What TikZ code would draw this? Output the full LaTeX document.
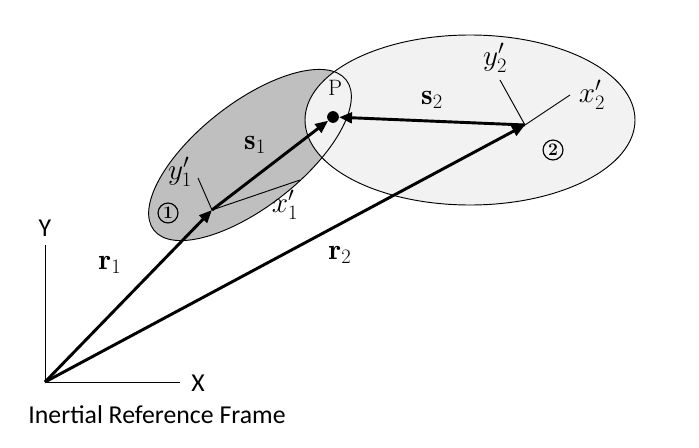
\documentclass[tikz,border=0pt]{standalone}
\usepackage{fontspec}
\usepackage{amsmath}
\usepackage{fix-cm}
\newfontfamily\carlito{Carlito}
\usetikzlibrary{arrows.meta}
\tikzset{vec/.style={line width=2.5pt, -{Triangle[length=11pt,width=9pt]}},
  axis/.style={line width=0.8pt},
  lbl/.style={font=\fontsize{25}{28}\selectfont},
  num/.style={circle, draw, line width=1pt, inner sep=0pt, minimum size=17pt, font=\bfseries\fontsize{15}{17}\selectfont}}
\begin{document}
\begin{tikzpicture}[x=0.03cm, y=-0.03cm]
\useasboundingbox (0,0) rectangle (699,447);
% bodies
\fill[gray!50, rotate around={38:(250,155)}] (250,155) ellipse (122 and 52);
\filldraw[fill=gray!10, draw=black, line width=0.8pt] (470,120) ellipse (165 and 85);
\draw[line width=0.8pt, rotate around={38:(250,155)}] (250,155) ellipse (122 and 52);
% points
\coordinate (O) at (45,382);
\coordinate (B1) at (212,210);
\coordinate (B2) at (525,125);
\node[circle, fill, inner sep=0pt, minimum size=10pt] (P) at (333,117) {};
% inertial frame
\draw[axis] (O) -- (45,245);
\draw[axis] (O) -- (180,382);
\node[font=\carlito\fontsize{22}{24}\selectfont] (Y) at (45,228) {Y};
\node[font=\carlito\fontsize{22}{24}\selectfont] (X) at (198,383) {X};
\node[font=\carlito\fontsize{22}{24}\selectfont] (frame) at (157,415) {Inertial Reference Frame};
% body frames
\coordinate (x1) at (300,180);
\coordinate (y1) at (198,178);
\coordinate (x2) at (570,95);
\coordinate (y2) at (500,80);
\draw[axis] (B1) -- (x1);
\draw[axis] (B1) -- (y1);
\draw[axis] (B2) -- (x2);
\draw[axis] (B2) -- (y2);
\node[lbl] (lx1) at (285,205) {$x_1'$};
\node[lbl] (ly1) at (180,172) {$y_1'$};
\node[lbl] (lx2) at (592,95) {$x_2'$};
\node[lbl] (ly2) at (495,58) {$y_2'$};
\node[num] (n1) at (168,213) {1};
\node[num] (n2) at (553,150) {2};
% vectors
\draw[vec] (O) -- (B1);
\draw[vec] (O) -- (B2);
\draw[vec] (B1) -- (P);
\draw[vec] (B2) -- (P);
\node[lbl] (r1) at (110,265) {$\mathbf{r}_1$};
\node[lbl] (r2) at (340,255) {$\mathbf{r}_2$};
\node[lbl] (s1) at (255,145) {$\mathbf{s}_1$};
\node[lbl] (s2) at (432,100) {$\mathbf{s}_2$};
\node[font=\fontsize{19}{21}\selectfont] (lP) at (335,88) {P};
\end{tikzpicture}
\end{document}
